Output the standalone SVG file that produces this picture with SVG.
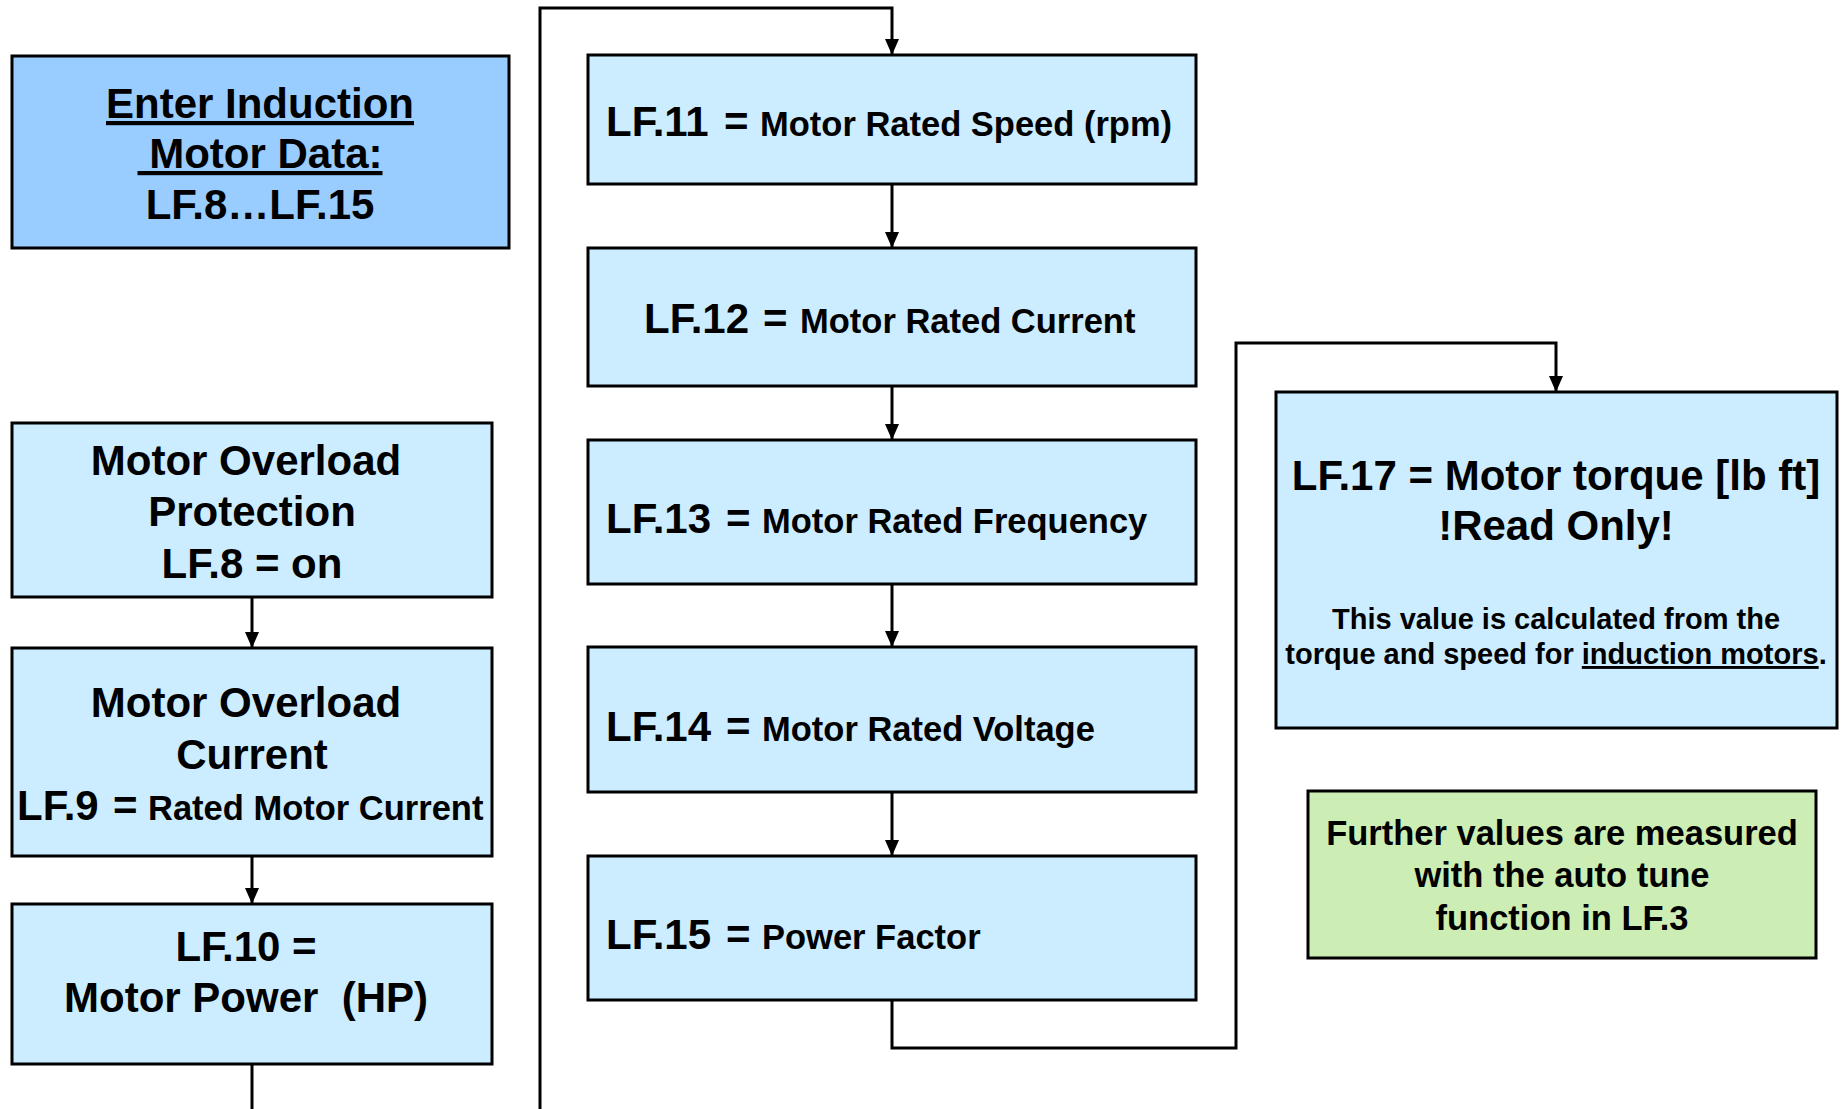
<svg xmlns="http://www.w3.org/2000/svg" width="1845" height="1109" viewBox="0 0 1845 1109">
<style>
  .box { stroke: #000; stroke-width: 3; }
  .blue { fill: #CCECFF; }
  .dblue { fill: #99CCFF; }
  .green { fill: #CCEEB4; }
  text { font-family: "Liberation Sans", Arial, sans-serif; font-weight: bold; fill: #000; white-space: pre; }
  .c { text-anchor: middle; }
  .f42 { font-size: 42px; }
  .f34 { font-size: 34.5px; }
  .f29 { font-size: 29px; }
  .u { text-decoration: underline; }
  .conn { fill: none; stroke: #000; stroke-width: 3; }
</style>
<defs>
  <marker id="arr" markerUnits="userSpaceOnUse" markerWidth="16" markerHeight="16" refX="16" refY="7" orient="auto" viewBox="0 0 16 14">
    <path d="M0,0 L16,7 L0,14 z" fill="#000"/>
  </marker>
</defs>
<rect width="1845" height="1109" fill="#fff"/>

<g id="connectors">
  <path class="conn" d="M252,597 L252,648" marker-end="url(#arr)"/>
  <path class="conn" d="M252,856 L252,904" marker-end="url(#arr)"/>
  <path class="conn" d="M252,1064 L252,1109"/>
  <path class="conn" d="M540,1109 L540,8 L892,8 L892,55" marker-end="url(#arr)"/>
  <path class="conn" d="M892,184 L892,248" marker-end="url(#arr)"/>
  <path class="conn" d="M892,386 L892,440" marker-end="url(#arr)"/>
  <path class="conn" d="M892,584 L892,647" marker-end="url(#arr)"/>
  <path class="conn" d="M892,792 L892,856" marker-end="url(#arr)"/>
  <path class="conn" d="M892,1000 L892,1048 L1236,1048 L1236,343 L1556,343 L1556,392" marker-end="url(#arr)"/>
</g>

<g id="enter">
  <rect class="box dblue" x="12" y="56" width="497" height="192"/>
  <text class="c f42 u" x="260" y="118">Enter Induction</text>
  <text class="c f42 u" x="260" y="168"> Motor Data:</text>
  <text class="c f42" x="260" y="219">LF.8…LF.15</text>
</g>

<g id="lf8">
  <rect class="box blue" x="12" y="423" width="480" height="174"/>
  <text class="c f42" x="246" y="475">Motor Overload</text>
  <text class="c f42" x="252" y="526">Protection</text>
  <text class="c f42" x="252" y="578">LF.8 = on</text>
</g>

<g id="lf9">
  <rect class="box blue" x="12" y="648" width="480" height="208"/>
  <text class="c f42" x="246" y="717">Motor Overload</text>
  <text class="c f42" x="252" y="769">Current</text>
  <text class="f42" y="820"><tspan x="17">LF.9</tspan><tspan x="113">=</tspan><tspan x="148" class="f34">Rated Motor Current</tspan></text>
</g>

<g id="lf10">
  <rect class="box blue" x="12" y="904" width="480" height="160"/>
  <text class="c f42" x="246" y="961">LF.10 =</text>
  <text class="c f42" x="246" y="1012">Motor Power  (HP)</text>
</g>

<g id="lf11">
  <rect class="box blue" x="588" y="55" width="608" height="129"/>
  <text class="f42" y="136"><tspan x="606">LF.11</tspan><tspan x="724">=</tspan><tspan x="760" class="f34">Motor Rated Speed (rpm)</tspan></text>
</g>

<g id="lf12">
  <rect class="box blue" x="588" y="248" width="608" height="138"/>
  <text class="f42" y="333"><tspan x="644">LF.12</tspan><tspan x="763">=</tspan><tspan x="800" class="f34">Motor Rated Current</tspan></text>
</g>

<g id="lf13">
  <rect class="box blue" x="588" y="440" width="608" height="144"/>
  <text class="f42" y="533"><tspan x="606">LF.13</tspan><tspan x="726">=</tspan><tspan x="762" class="f34">Motor Rated Frequency</tspan></text>
</g>

<g id="lf14">
  <rect class="box blue" x="588" y="647" width="608" height="145"/>
  <text class="f42" y="741"><tspan x="606">LF.14</tspan><tspan x="726">=</tspan><tspan x="762" class="f34">Motor Rated Voltage</tspan></text>
</g>

<g id="lf15">
  <rect class="box blue" x="588" y="856" width="608" height="144"/>
  <text class="f42" y="949"><tspan x="606">LF.15</tspan><tspan x="726">=</tspan><tspan x="762" class="f34">Power Factor</tspan></text>
</g>

<g id="lf17">
  <rect class="box blue" x="1276" y="392" width="561" height="336"/>
  <text class="c f42" x="1556" y="490">LF.17 = Motor torque [lb ft]</text>
  <text class="c f42" x="1556" y="540">!Read Only!</text>
  <text class="c f29" x="1556" y="629">This value is calculated from the</text>
  <text class="c f29" x="1556" y="664">torque and speed for <tspan class="u">induction motors</tspan>.</text>
</g>

<g id="note">
  <rect class="box green" x="1308" y="791" width="508" height="167"/>
  <text class="c f34" x="1562" y="845">Further values are measured</text>
  <text class="c f34" x="1562" y="887">with the auto tune</text>
  <text class="c f34" x="1562" y="930">function in LF.3</text>
</g>
</svg>
